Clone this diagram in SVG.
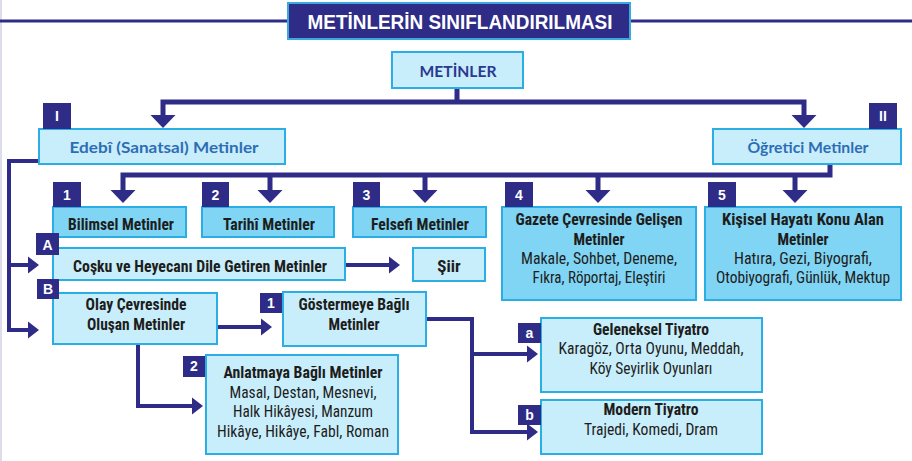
<svg xmlns="http://www.w3.org/2000/svg" xmlns:xlink="http://www.w3.org/1999/xlink" width="912" height="461" viewBox="0 0 912 461">
<style>
.bl{fill:#c9eefb;stroke:#2aaee3;stroke-width:2}
.bd{fill:#80d4f4;stroke:#2aaee3;stroke-width:2}
.bg{fill:#2e2c86}
.bt{font-family:"Liberation Sans",Arial,sans-serif;font-weight:bold;font-size:14px;fill:#fff;text-anchor:middle}
.c{font-family:"Liberation Sans Narrow","Roboto Condensed",Roboto,"Liberation Sans",sans-serif;font-size:17px;fill:#1d1d1b;text-anchor:middle}
.b{font-weight:bold}
.r{font-family:Lato,"Open Sans","Liberation Sans",sans-serif;font-weight:bold;font-size:16px;text-anchor:middle}
.cn{fill:none;stroke:#2e2c86;stroke-width:5}
.cs{fill:none;stroke:#2e2c86;stroke-width:4}
.ah{fill:#2e2c86}
</style>
<defs>
<path id="ad" d="M-12.5,0 L12.5,0 L0,13 Z"/>
<path id="ar" d="M0,-8.5 L0,8.5 L11,0 Z"/>
</defs>
<rect x="0" y="0" width="912" height="461" fill="#fff"/>
<rect x="0" y="0" width="2" height="461" fill="#dcdcea"/>

<g id="title">
<line x1="0" y1="21" x2="288" y2="21" stroke="#2e2c86" stroke-width="3"/>
<line x1="630" y1="21" x2="912" y2="21" stroke="#2e2c86" stroke-width="3"/>
<rect x="288" y="3" width="342" height="36" fill="#2e2c86" stroke="#3aa9e0" stroke-width="2"/>
<text x="460" y="28.5" font-family="'Liberation Sans',Arial,sans-serif" font-weight="bold" font-size="19.5" fill="#fff" text-anchor="middle" textLength="305" lengthAdjust="spacingAndGlyphs">METİNLERİN SINIFLANDIRILMASI</text>
</g>

<g id="connectors">
<path class="cn" d="M457,88 V102 M163,115 V102 H804 V115"/>
<use href="#ad" class="ah" x="163" y="115"/>
<use href="#ad" class="ah" x="804" y="115"/>
<path class="cn" d="M830,164 V175 H123 V190 M270,175 V190 M425,175 V190 M598,175 V190 M795,175 V190"/>
<use href="#ad" class="ah" x="123" y="190"/>
<use href="#ad" class="ah" x="270" y="190"/>
<use href="#ad" class="ah" x="425" y="190"/>
<use href="#ad" class="ah" x="598" y="190"/>
<use href="#ad" class="ah" x="795" y="190"/>
<path class="cs" d="M39,161 H9 V330 H29 M9,265 H29"/>
<use href="#ar" class="ah" x="28" y="265"/>
<use href="#ar" class="ah" x="28" y="330"/>
<path class="cs" d="M345,265 H390"/>
<use href="#ar" class="ah" x="389" y="265"/>
<path class="cs" d="M217,327 H262"/>
<use href="#ar" class="ah" x="261" y="327"/>
<path class="cs" d="M138,344 V406 H193"/>
<use href="#ar" class="ah" x="192" y="406"/>
<path class="cs" d="M426,319 H472 V432 H528 M472,354 H528"/>
<use href="#ar" class="ah" x="527" y="354"/>
<use href="#ar" class="ah" x="527" y="432"/>
</g>

<g id="n-metinler">
<rect class="bl" x="392" y="52" width="131" height="36"/>
<text class="r" x="458" y="77" fill="#2b3990" textLength="77" lengthAdjust="spacingAndGlyphs">METİNLER</text>
</g>

<g id="n-edebi">
<rect class="bl" x="39" y="129" width="246" height="35"/>
<rect class="bg" x="43" y="103" width="28" height="26"/>
<text class="bt" x="57" y="121">I</text>
<text class="r" x="164" y="152.5" fill="#2e6db5" textLength="189" lengthAdjust="spacingAndGlyphs">Edebî (Sanatsal) Metinler</text>
</g>

<g id="n-ogretici">
<rect class="bl" x="713" y="129" width="188" height="35"/>
<rect class="bg" x="869" y="103" width="28" height="26"/>
<text class="bt" x="883" y="121">II</text>
<text class="r" x="808" y="152.5" fill="#2e6db5" textLength="121" lengthAdjust="spacingAndGlyphs">Öğretici Metinler</text>
</g>

<g id="n-bilimsel">
<rect class="bd" x="53" y="207" width="133" height="30"/>
<rect class="bg" x="53" y="182" width="28" height="25"/>
<text class="bt" x="67" y="200">1</text>
<text class="c b" x="121" y="230" textLength="106" lengthAdjust="spacingAndGlyphs">Bilimsel Metinler</text>
</g>

<g id="n-tarihi">
<rect class="bd" x="202" y="207" width="132" height="30"/>
<rect class="bg" x="202" y="182" width="27" height="25"/>
<text class="bt" x="215.5" y="200">2</text>
<text class="c b" x="269" y="230" textLength="92" lengthAdjust="spacingAndGlyphs">Tarihî Metinler</text>
</g>

<g id="n-felsefi">
<rect class="bd" x="353" y="207" width="133" height="30"/>
<rect class="bg" x="353" y="182" width="27" height="25"/>
<text class="bt" x="366.5" y="200">3</text>
<text class="c b" x="420" y="230" textLength="98" lengthAdjust="spacingAndGlyphs">Felsefi Metinler</text>
</g>

<g id="n-gazete">
<rect class="bd" x="502" y="207" width="194" height="93"/>
<rect class="bg" x="505" y="182" width="28" height="25"/>
<text class="bt" x="519" y="200">4</text>
<text class="c b" x="599" y="225" textLength="167" lengthAdjust="spacingAndGlyphs">Gazete Çevresinde Gelişen</text>
<text class="c b" x="599" y="245" textLength="51" lengthAdjust="spacingAndGlyphs">Metinler</text>
<text class="c" x="599" y="264" textLength="156" lengthAdjust="spacingAndGlyphs">Makale, Sohbet, Deneme,</text>
<text class="c" x="599" y="283" textLength="133" lengthAdjust="spacingAndGlyphs">Fıkra, Röportaj, Eleştiri</text>
</g>

<g id="n-kisisel">
<rect class="bd" x="705" y="207" width="196" height="93"/>
<rect class="bg" x="708" y="182" width="28" height="25"/>
<text class="bt" x="722" y="200">5</text>
<text class="c b" x="803" y="225" textLength="162" lengthAdjust="spacingAndGlyphs">Kişisel Hayatı Konu Alan</text>
<text class="c b" x="803" y="245" textLength="51" lengthAdjust="spacingAndGlyphs">Metinler</text>
<text class="c" x="803" y="264" textLength="138" lengthAdjust="spacingAndGlyphs">Hatıra, Gezi, Biyografi,</text>
<text class="c" x="803" y="283" textLength="174" lengthAdjust="spacingAndGlyphs">Otobiyografi, Günlük, Mektup</text>
</g>

<g id="n-cosku">
<rect class="bl" x="53" y="248" width="292" height="32"/>
<rect class="bg" x="36" y="233" width="23" height="22"/>
<text class="bt" x="47.5" y="249.5" font-size="13">A</text>
<text class="c b" x="200" y="272" textLength="254" lengthAdjust="spacingAndGlyphs">Coşku ve Heyecanı Dile Getiren Metinler</text>
</g>

<g id="n-siir">
<rect class="bl" x="413" y="248" width="72" height="33"/>
<text class="c b" x="449" y="272">Şiir</text>
</g>

<g id="n-olay">
<rect class="bl" x="53" y="293" width="164" height="51"/>
<rect class="bg" x="37" y="279" width="22" height="20"/>
<text class="bt" x="48" y="294" font-size="13">B</text>
<text class="c b" x="136" y="310" textLength="101" lengthAdjust="spacingAndGlyphs">Olay Çevresinde</text>
<text class="c b" x="136" y="330" textLength="98" lengthAdjust="spacingAndGlyphs">Oluşan Metinler</text>
</g>

<g id="n-gostermeye">
<rect class="bl" x="283" y="292" width="143" height="54"/>
<rect class="bg" x="260" y="293" width="22" height="20"/>
<text class="bt" x="271" y="308" font-size="13">1</text>
<text class="c b" x="354" y="310" textLength="111" lengthAdjust="spacingAndGlyphs">Göstermeye Bağlı</text>
<text class="c b" x="354" y="330" textLength="51" lengthAdjust="spacingAndGlyphs">Metinler</text>
</g>

<g id="n-anlatmaya">
<rect class="bl" x="206" y="355" width="192" height="99"/>
<rect class="bg" x="183" y="356" width="22" height="21"/>
<text class="bt" x="194" y="371" font-size="13">2</text>
<text class="c b" x="303" y="378" textLength="159" lengthAdjust="spacingAndGlyphs">Anlatmaya Bağlı Metinler</text>
<text class="c" x="303" y="398" textLength="147" lengthAdjust="spacingAndGlyphs">Masal, Destan, Mesnevi,</text>
<text class="c" x="303" y="417" textLength="140" lengthAdjust="spacingAndGlyphs">Halk Hikâyesi, Manzum</text>
<text class="c" x="303" y="437" textLength="172" lengthAdjust="spacingAndGlyphs">Hikâye, Hikâye, Fabl, Roman</text>
</g>

<g id="n-geleneksel">
<rect class="bl" x="541" y="318" width="221" height="74"/>
<rect class="bg" x="518" y="323" width="23" height="20"/>
<text class="bt" x="529.5" y="338" font-size="13">a</text>
<text class="c b" x="651" y="335" textLength="116" lengthAdjust="spacingAndGlyphs">Geleneksel Tiyatro</text>
<text class="c" x="651" y="354" font-size="16" textLength="185" lengthAdjust="spacingAndGlyphs">Karagöz, Orta Oyunu, Meddah,</text>
<text class="c" x="651" y="374" font-size="16" textLength="123" lengthAdjust="spacingAndGlyphs">Köy Seyirlik Oyunları</text>
</g>

<g id="n-modern">
<rect class="bl" x="541" y="400" width="221" height="54"/>
<rect class="bg" x="518" y="405" width="23" height="20"/>
<text class="bt" x="529.5" y="420" font-size="13">b</text>
<text class="c b" x="651" y="415" textLength="95" lengthAdjust="spacingAndGlyphs">Modern Tiyatro</text>
<text class="c" x="651" y="435" textLength="134" lengthAdjust="spacingAndGlyphs">Trajedi, Komedi, Dram</text>
</g>
</svg>
